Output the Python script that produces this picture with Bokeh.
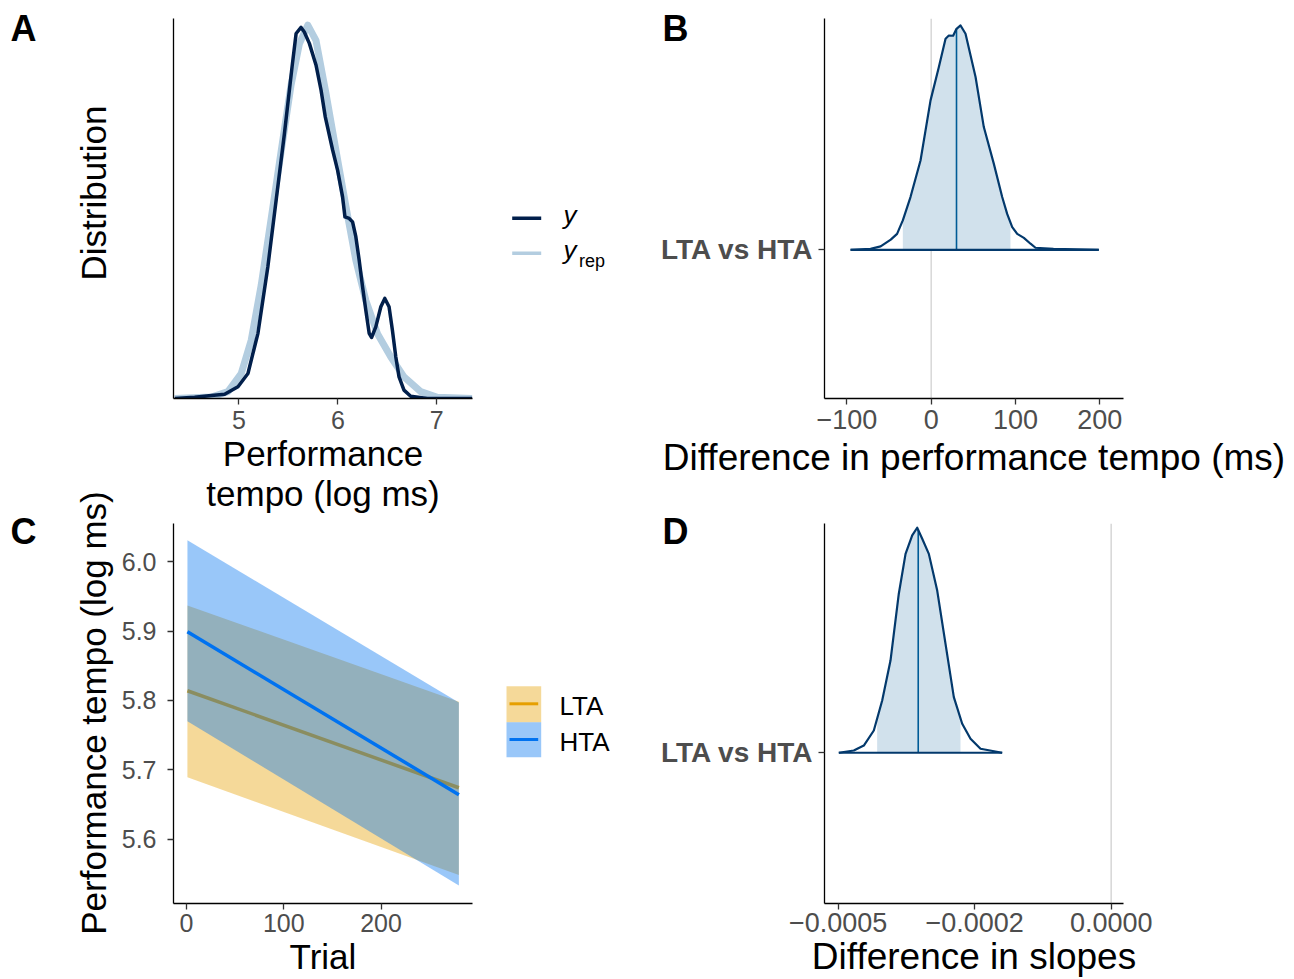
import numpy as np
from bokeh.plotting import figure
from bokeh.layouts import row, column
from bokeh.models import FixedTicker, Range1d, Span
from bokeh.embed import file_html
from bokeh.resources import INLINE
from bokeh.core.properties import value

FONT = "Liberation Sans"
TICK_COL = "#4d4d4d"
PAGE_H = 979

# ---------------- data ----------------
# Panel A: posterior predictive density check (log ms)
obs_x = [4.351, 4.552, 4.721, 4.855, 4.990, 5.091, 5.192, 5.292, 5.376, 5.460, 5.537, 5.578,
         5.628, 5.661, 5.712, 5.779, 5.830, 5.873, 5.948, 5.998, 6.048, 6.072, 6.115, 6.149,
         6.182, 6.216, 6.250, 6.283, 6.317, 6.341, 6.384, 6.435, 6.475, 6.518, 6.552, 6.586,
         6.619, 6.669, 6.737, 6.905, 7.359]
obs_d = [0.0, 0.003, 0.008, 0.011, 0.031, 0.066, 0.172, 0.347, 0.523, 0.699, 0.875, 0.963,
         0.979, 0.967, 0.937, 0.880, 0.814, 0.743, 0.655, 0.602, 0.532, 0.479, 0.475, 0.466,
         0.427, 0.365, 0.295, 0.233, 0.172, 0.161, 0.189, 0.242, 0.264, 0.242, 0.180, 0.110,
         0.057, 0.022, 0.006, 0.0, 0.0]
rep_x = [4.351, 4.721, 4.889, 5.023, 5.124, 5.225, 5.326, 5.426, 5.527, 5.611, 5.696, 5.779,
         5.880, 5.981, 6.082, 6.182, 6.283, 6.401, 6.535, 6.669, 6.838, 7.006, 7.359]
rep_d = [0.0, 0.004, 0.018, 0.066, 0.154, 0.299, 0.475, 0.651, 0.827, 0.936, 0.985, 0.945,
         0.805, 0.655, 0.506, 0.365, 0.259, 0.171, 0.110, 0.057, 0.018, 0.003, 0.0]
a_ticks = [5, 6, 7]

# Panel B: difference in performance tempo (ms), LTA vs HTA
tempo_x = [-95.7, -72, -60, -48, -40.5, -33.7, -24.6, -12.7, -0.8, 9, 17, 20.9, 26, 30, 34.8,
           40.7, 52.6, 62.4, 74.3, 84.2, 90.1, 96.1, 102, 109.9, 117.8, 123.7, 145, 198.8]
tempo_d = [0.0, 0.004, 0.015, 0.045, 0.071, 0.131, 0.235, 0.398, 0.666, 0.814, 0.941, 0.955,
           0.954, 0.985, 1.0, 0.963, 0.770, 0.547, 0.383, 0.235, 0.160, 0.101, 0.071, 0.053,
           0.027, 0.009, 0.004, 0.0]
tempo_ci = [-33.7, 94.0]
tempo_med = 30.0
b_ticks = [-100, 0, 100, 200]
b_labels = ["\u2212100", "0", "100", "200"]

# Panel C: fitted performance tempo over trials
trial = [1, 280]
lta_fit = [5.814, 5.674]
lta_lo = [5.689, 5.548]
lta_hi = [5.937, 5.798]
hta_fit = [5.899, 5.664]
hta_lo = [5.770, 5.533]
hta_hi = [6.031, 5.797]
c_xticks = [0, 100, 200]
c_yticks = [5.6, 5.7, 5.8, 5.9, 6.0]
c_ylabels = ["5.6", "5.7", "5.8", "5.9", "6.0"]

# Panel D: difference in slopes
slope_x = [-0.000449, -0.0004243, -0.0004078, -0.0003913, -0.0003775, -0.0003638, -0.0003501,
           -0.000339, -0.000328, -0.0003198, -0.0003115, -0.0003006, -0.0002868, -0.0002731,
           -0.0002594, -0.0002456, -0.0002319, -0.0002154, -0.0001797]
slope_d = [0.0, 0.010, 0.032, 0.099, 0.232, 0.410, 0.707, 0.884, 0.966, 1.0, 0.951, 0.884,
           0.721, 0.484, 0.247, 0.129, 0.062, 0.018, 0.0]
slope_ci = [-0.0003858, -0.0002484]
slope_med = -0.0003181
d_ticks = [-0.00045, -0.000225, 0.0]
d_labels = ["\u22120.0005", "\u22120.0002", "0.0000"]

category = "LTA vs HTA"
panel_tags = ["A", "B", "C", "D"]

ORANGE = "#E69F00"
BLUE = "#0072F0"
DARK = "#011f4b"
LIGHT = "#b3cde0"
AREA_FILL = "#d1e1ec"
AREA_LINE = "#03396c"
AREA_MED = "#005b96"


def style(p, tick_px, title_px):
    p.grid.visible = False
    p.outline_line_color = None
    for ax in p.axis:
        ax.axis_line_color = "black"
        ax.axis_line_width = 1.3
        ax.major_tick_line_color = "#333333"
        ax.major_tick_line_width = 1.3
        ax.major_tick_out = 6
        ax.major_tick_in = 0
        ax.minor_tick_line_color = None
        ax.major_label_text_font = FONT
        ax.major_label_text_font_size = tick_px
        ax.major_label_text_color = TICK_COL
        ax.axis_label_text_font = FONT
        ax.axis_label_text_font_size = title_px
        ax.axis_label_text_font_style = "normal"
        ax.axis_label_text_color = "black"


def fig(w, h, xr, yr, left, right, top, bottom):
    p = figure(width=w, height=h, x_range=Range1d(*xr), y_range=Range1d(*yr),
               output_backend="svg", toolbar_location=None,
               min_border_left=left, min_border_right=right,
               min_border_top=top, min_border_bottom=bottom)
    p.background_fill_color = "white"
    p.border_fill_color = "white"
    return p


# ---------------- Panel A ----------------
pA = fig(364, 520, (4.338, 7.362), (0, 1.0026), 54, 10, 18, 122)
pA.line(rep_x, rep_d, line_color=LIGHT, line_width=7, line_join="round")
pA.line(obs_x, obs_d, line_color=DARK, line_width=3.5, line_join="round")
style(pA, "25px", "35px")
pA.xaxis.ticker = FixedTicker(ticks=a_ticks)
pA.yaxis.ticker = FixedTicker(ticks=[])
pA.xaxis.axis_label = "Performance\ntempo (log ms)"
pA.xaxis.axis_label_text_line_height = 1.05
pA.xaxis.major_label_standoff = 6
pA.xaxis.axis_label_standoff = 2


# ---------------- ridge helper ----------------
def ridge(p, xs, ds, ci, med):
    xs = np.asarray(xs, dtype=float)
    ds = np.asarray(ds, dtype=float)
    inside = xs[(xs > ci[0]) & (xs < ci[1])]
    xi = np.concatenate([[ci[0]], inside, [ci[1]]])
    di = np.interp(xi, xs, ds)
    p.varea(x=xi, y1=np.ones_like(xi), y2=1 + di, fill_color=AREA_FILL)
    p.segment(x0=[med], y0=[1], x1=[med], y1=[1 + np.interp(med, xs, ds)],
              line_color=AREA_MED, line_width=1.6)
    p.line(xs, 1 + ds, line_color=AREA_LINE, line_width=2.2, line_join="round")
    p.line([xs[0], xs[-1]], [1, 1], line_color=AREA_LINE, line_width=2.2)


def ridge_axes(p):
    p.yaxis.ticker = FixedTicker(ticks=[1])
    p.yaxis.major_label_overrides = {1: category}
    p.yaxis.major_label_text_font_style = "bold"
    p.yaxis.major_label_text_font_size = "28px"
    p.yaxis.major_label_standoff = 5


# ---------------- Panel B ----------------
pB = fig(654, 520, (-126.6, 228.1), (0.337, 2.031), 184, 171, 18, 122)
pB.add_layout(Span(location=0, dimension="height", line_color="#d9d9d9",
                   line_width=1.6, level="underlay"))
ridge(pB, tempo_x, tempo_d, tempo_ci, tempo_med)
style(pB, "27px", "37px")
ridge_axes(pB)
pB.xaxis.ticker = FixedTicker(ticks=b_ticks)
pB.xaxis.major_label_overrides = {t: l for t, l in zip(b_ticks, b_labels)}
pB.xaxis.axis_label = "Difference in performance tempo (ms)"
pB.xaxis.major_label_standoff = 5
pB.xaxis.axis_label_standoff = 5

# ---------------- Panel C ----------------
pC = fig(364, 459, (-13.3, 294), (5.507, 6.0553), 54, 10, 3, 76)
pC.varea(x=trial, y1=lta_lo, y2=lta_hi, fill_color=ORANGE, fill_alpha=0.4)
pC.line(trial, lta_fit, line_color=ORANGE, line_width=3.5)
pC.varea(x=trial, y1=hta_lo, y2=hta_hi, fill_color=BLUE, fill_alpha=0.4)
pC.line(trial, hta_fit, line_color=BLUE, line_width=3.5)
style(pC, "25px", "35px")
pC.xaxis.ticker = FixedTicker(ticks=c_xticks)
pC.yaxis.ticker = FixedTicker(ticks=c_yticks)
pC.yaxis.major_label_overrides = {t: l for t, l in zip(c_yticks, c_ylabels)}
pC.yaxis.major_label_standoff = 11
pC.xaxis.axis_label = "Trial"
pC.xaxis.major_label_standoff = 4
pC.xaxis.axis_label_standoff = 2

# ---------------- Panel D ----------------
pD = fig(654, 459, (-0.0004726, 0.0000203), (0.330, 2.019), 184, 171, 3, 76)
pD.add_layout(Span(location=0, dimension="height", line_color="#d9d9d9",
                   line_width=1.6, level="underlay"))
ridge(pD, slope_x, slope_d, slope_ci, slope_med)
style(pD, "27px", "37px")
ridge_axes(pD)
pD.xaxis.ticker = FixedTicker(ticks=d_ticks)
pD.xaxis.major_label_overrides = {t: l for t, l in zip(d_ticks, d_labels)}
pD.xaxis.axis_label = "Difference in slopes"
pD.xaxis.major_label_standoff = 3
pD.xaxis.axis_label_standoff = 1


# ---------------- strips (tags, titles, legends) ----------------
def strip(x0, x1, transparent=False):
    s = figure(width=x1 - x0, height=PAGE_H, x_range=Range1d(x0, x1), y_range=Range1d(0, PAGE_H),
               x_axis_type=None, y_axis_type=None, output_backend="svg", toolbar_location=None,
               min_border=0)
    s.outline_line_color = None
    s.grid.visible = False
    if transparent:
        s.background_fill_color = None
        s.border_fill_color = None
    return s


def Y(py):
    return PAGE_H - py


def tags(s, xs, ys, texts):
    s.text(x=xs, y=[Y(v) for v in ys], text=texts, text_font=value(FONT),
           text_font_size="36px", text_font_style="bold", text_align="left",
           text_baseline="alphabetic", text_color="black")


sL = strip(0, 118)
tags(sL, [10, 10], [28, 531], [panel_tags[0], panel_tags[2]])
sL.text(x=[93, 93], y=[Y(192.5), Y(712.5)],
        text=["Distribution", "Performance tempo (log ms)"], angle=np.pi / 2,
        text_font=value(FONT), text_font_size="35px", text_align="center",
        text_baseline="alphabetic", text_color="black")

sM = strip(482, 640)
# legend A
sM.line([511.7, 540.7], [Y(217.7), Y(217.7)], line_color=DARK, line_width=3.5)
sM.line([511.7, 540.7], [Y(252.7), Y(252.7)], line_color=LIGHT, line_width=3.5)
sM.text(x=[563, 563], y=[Y(214), Y(249)], text=["y", "y"], text_font=value(FONT),
        text_font_size="26px", text_font_style="italic", text_align="left",
        text_baseline="alphabetic", text_color="black")
sM.text(x=[578.5], y=[Y(260.5)], text=["rep"], text_font=value(FONT), text_font_size="18px",
        text_align="left", text_baseline="alphabetic", text_color="black")
# legend C
sM.quad(left=[506, 506], right=[540.7, 540.7], top=[Y(685.7), Y(721.7)],
        bottom=[Y(721.7), Y(756.7)], fill_color=[ORANGE, BLUE], fill_alpha=0.4, line_color=None)
sM.line([509, 537.7], [Y(703.3), Y(703.3)], line_color=ORANGE, line_width=3)
sM.line([509, 537.7], [Y(739), Y(739)], line_color=BLUE, line_width=3)
sM.text(x=[559, 559], y=[Y(705), Y(741)], text=["LTA", "HTA"], text_font=value(FONT),
        text_font_size="26px", text_align="left", text_baseline="alphabetic",
        text_color="black")

# transparent overlay on the right column carrying the B and D tags
sR = strip(640, 1294, transparent=True)
tags(sR, [662, 662], [28, 531], [panel_tags[1], panel_tags[3]])
sR.margin = (0, 0, 0, -654)

right_col = column(pB, pD, spacing=0)
layout = row(sL, column(pA, pC, spacing=0), sM, right_col, sR, spacing=0)

open("out.html", "w").write(file_html(layout, INLINE))
